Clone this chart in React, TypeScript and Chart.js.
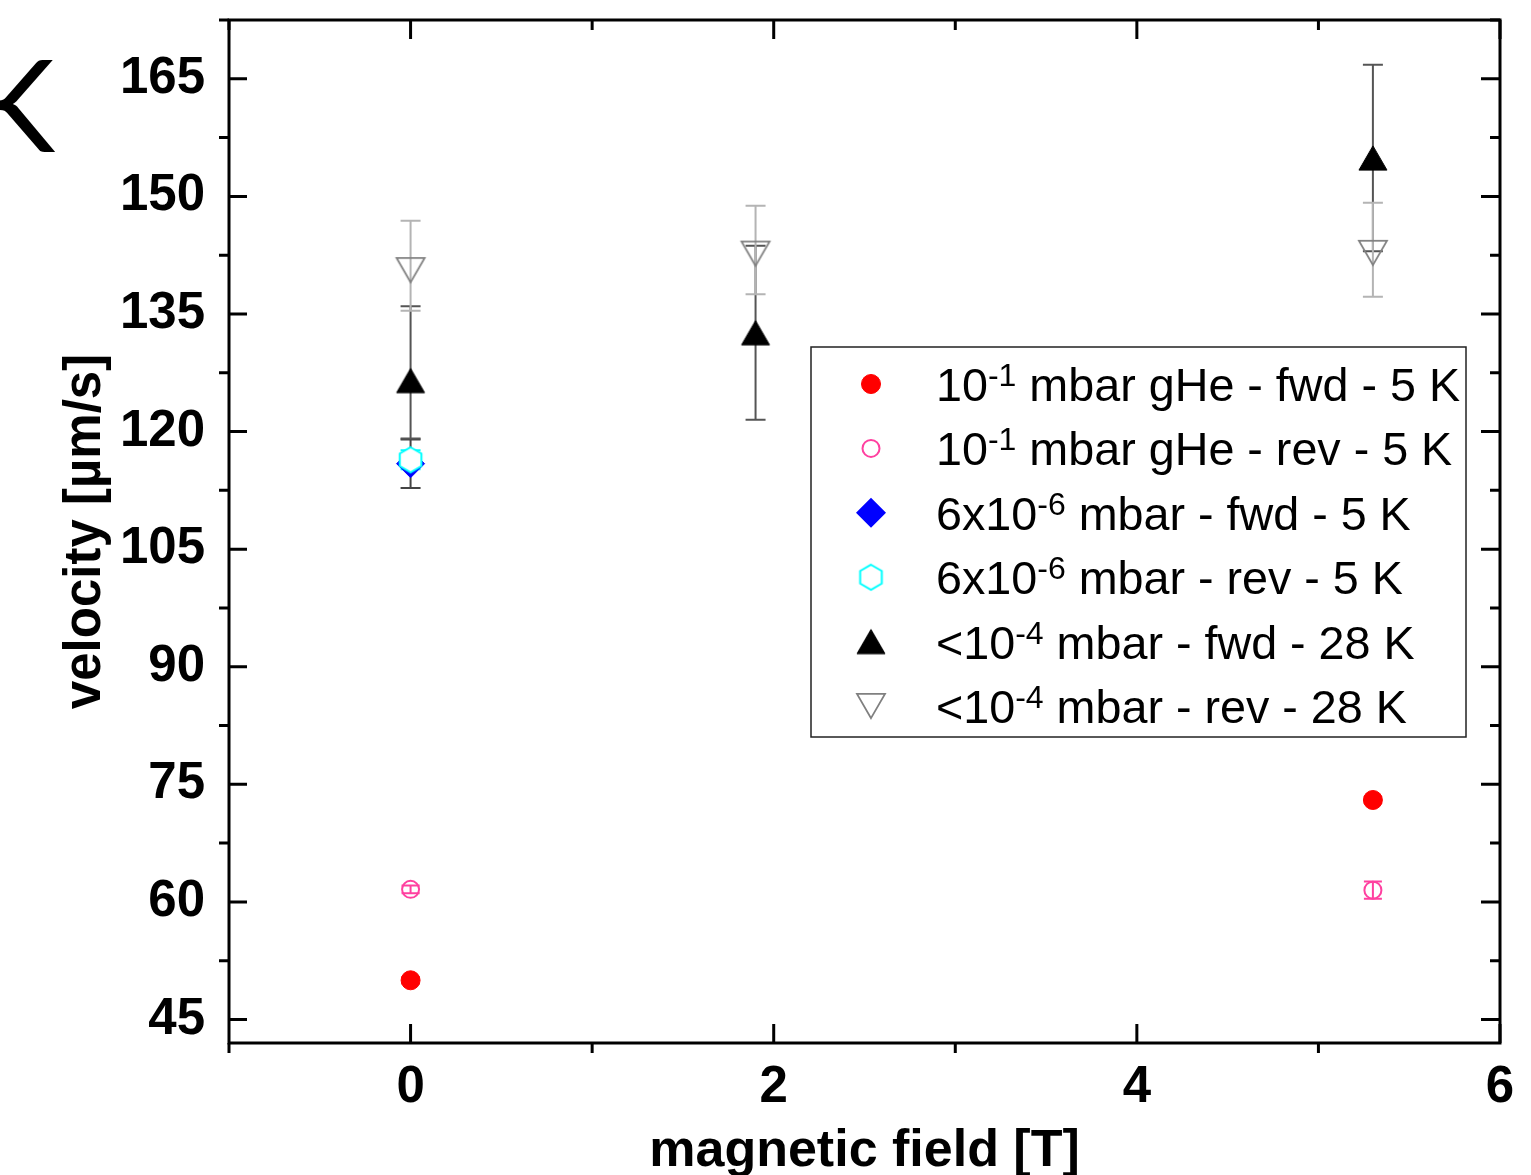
import React, { useEffect, useRef } from 'react';
import { Chart, registerables } from 'chart.js';

Chart.register(...registerables);

const W = 1531;
const H = 1175;
const FONT = '"Liberation Sans", Arial, sans-serif';

// ---- axes ----
const xMin = -1;
const xMax = 6;
const yMin = 42;
const yMax = 172.5;
const xTickValues = [0, 2, 4, 6];
const xMinorValues = [-1, 1, 3, 5];
const yTickValues = [45, 60, 75, 90, 105, 120, 135, 150, 165];
const yMinorValues = [52.5, 67.5, 82.5, 97.5, 112.5, 127.5, 142.5, 157.5, 172.5];
const xTitle = 'magnetic field [T]';
const yTitle = 'velocity [µm/s]';

// ---- series: 10^-1 mbar gHe fwd 5 K ----
const gheFwdX = [0, 5.3];
const gheFwdY = [50.0, 73.0];
const gheFwdErrLo = [0.4, 0.4];
const gheFwdErrHi = [0.4, 0.4];

// ---- series: 10^-1 mbar gHe rev 5 K ----
const gheRevX = [0, 5.3];
const gheRevY = [61.6, 61.5];
const gheRevErrLo = [0.5, 1.1];
const gheRevErrHi = [0.5, 1.1];

// ---- series: 6x10^-6 mbar fwd 5 K ----
const vacFwdX = [0];
const vacFwdY = [115.9];
const vacFwdErrLo = [3.1];
const vacFwdErrHi = [3.1];

// ---- series: 6x10^-6 mbar rev 5 K ----
const vacRevX = [0];
const vacRevY = [116.4];
const vacRevErrLo = [1.2];
const vacRevErrHi = [1.2];

// ---- series: <10^-4 mbar fwd 28 K ----
const k28FwdX = [0, 1.9, 5.3];
const k28FwdY = [126.5, 132.6, 154.9];
const k28FwdErrLo = [7.4, 11.1, 11.9];
const k28FwdErrHi = [9.5, 11.1, 11.9];

// ---- series: <10^-4 mbar rev 28 K ----
const k28RevX = [0, 1.9, 5.3];
const k28RevY = [140.6, 142.7, 142.8];
const k28RevErrLo = [5.2, 5.2, 5.6];
const k28RevErrHi = [6.3, 6.1, 6.4];

// ---- legend text ----
const legendBase = ['10', '10', '6x10', '6x10', '<10', '<10'];
const legendExp = ['-1', '-1', '-6', '-6', '-4', '-4'];
const legendRest = [
  ' mbar gHe - fwd - 5 K',
  ' mbar gHe - rev - 5 K',
  ' mbar - fwd - 5 K',
  ' mbar - rev - 5 K',
  ' mbar - fwd - 28 K',
  ' mbar - rev - 28 K',
];
const supMap: Record<string, string> = { '-': '⁻', '1': '¹', '4': '⁴', '6': '⁶' };
const toSup = (s: string) => s.split('').map((c) => supMap[c] || c).join('');

function makeTriangle(up: boolean, fill: string | null, stroke: string, lw: number, w: number) {
  const h = (w * Math.sqrt(3)) / 2;
  const size = Math.ceil(Math.max(w, h) + lw * 2 + 4);
  const c = document.createElement('canvas');
  c.width = size;
  c.height = size;
  const g = c.getContext('2d')!;
  const cx = size / 2;
  const cy = size / 2;
  g.beginPath();
  if (up) {
    g.moveTo(cx, cy - h / 2);
    g.lineTo(cx + w / 2, cy + h / 2);
    g.lineTo(cx - w / 2, cy + h / 2);
  } else {
    g.moveTo(cx, cy + h / 2);
    g.lineTo(cx + w / 2, cy - h / 2);
    g.lineTo(cx - w / 2, cy - h / 2);
  }
  g.closePath();
  if (fill) {
    g.fillStyle = fill;
    g.fill();
  }
  g.lineWidth = lw;
  g.strokeStyle = stroke;
  g.stroke();
  return c;
}

function makeHexagon(r: number, stroke: string, lw: number) {
  const size = Math.ceil(2 * r + lw * 2 + 4);
  const c = document.createElement('canvas');
  c.width = size;
  c.height = size;
  const g = c.getContext('2d')!;
  const cx = size / 2;
  const cy = size / 2;
  g.beginPath();
  for (let i = 0; i < 6; i++) {
    const a = -Math.PI / 2 + (i * Math.PI) / 3;
    const px = cx + r * Math.cos(a);
    const py = cy + r * Math.sin(a);
    if (i === 0) g.moveTo(px, py);
    else g.lineTo(px, py);
  }
  g.closePath();
  g.fillStyle = '#ffffff';
  g.fill();
  g.lineWidth = lw;
  g.strokeStyle = stroke;
  g.stroke();
  return c;
}

export default function App() {
  const ref = useRef<HTMLCanvasElement>(null);

  useEffect(() => {
    document.body.style.margin = '0';
    const canvas = ref.current!;
    const upTri = makeTriangle(true, '#000000', '#000000', 1, 28);
    const downTri = makeTriangle(false, null, '#808080', 1.8, 28);
    const hex = makeHexagon(12.5, '#00ffff', 2);

    const series = [
      { x: gheFwdX, y: gheFwdY, lo: gheFwdErrLo, hi: gheFwdErrHi, errColor: '#ff0000', cap: 9, style: 'circle', radius: 9.5, bg: '#ff0000', border: '#ff0000', bw: 1, order: 6 },
      { x: gheRevX, y: gheRevY, lo: gheRevErrLo, hi: gheRevErrHi, errColor: '#ff40a0', cap: 9, style: 'circle', radius: 8.5, bg: 'rgba(0,0,0,0)', border: '#ff40a0', bw: 2, order: 5 },
      { x: vacFwdX, y: vacFwdY, lo: vacFwdErrLo, hi: vacFwdErrHi, errColor: '#444444', cap: 10, style: 'rectRot', radius: 14, bg: '#0000ff', border: '#0000ff', bw: 1, order: 4 },
      { x: vacRevX, y: vacRevY, lo: vacRevErrLo, hi: vacRevErrHi, errColor: '#00ffff', cap: 10, style: hex, radius: 12, bg: '#ffffff', border: '#00ffff', bw: 2, order: 3 },
      { x: k28FwdX, y: k28FwdY, lo: k28FwdErrLo, hi: k28FwdErrHi, errColor: '#555555', cap: 10, style: upTri, radius: 14, bg: '#000000', border: '#000000', bw: 1, order: 2 },
      { x: k28RevX, y: k28RevY, lo: k28RevErrLo, hi: k28RevErrHi, errColor: '#b4b4b4', cap: 10, style: downTri, radius: 14, bg: 'rgba(0,0,0,0)', border: '#808080', bw: 2, order: 1 },
    ];

    const errorBars = {
      id: 'errorBars',
      beforeDatasetsDraw(chart: any) {
        const ctx = chart.ctx;
        const xs = chart.scales.x;
        const ys = chart.scales.y;
        ctx.save();
        series.forEach((s) => {
          ctx.strokeStyle = s.errColor;
          ctx.lineWidth = 2;
          s.x.forEach((xv, i) => {
            const px = xs.getPixelForValue(xv);
            const top = ys.getPixelForValue(s.y[i] + s.hi[i]);
            const bot = ys.getPixelForValue(s.y[i] - s.lo[i]);
            ctx.beginPath();
            ctx.moveTo(px, top);
            ctx.lineTo(px, bot);
            ctx.moveTo(px - s.cap, top);
            ctx.lineTo(px + s.cap, top);
            ctx.moveTo(px - s.cap, bot);
            ctx.lineTo(px + s.cap, bot);
            ctx.stroke();
          });
        });
        ctx.restore();
      },
    };

    const frame = {
      id: 'frame',
      afterDraw(chart: any) {
        const ctx = chart.ctx;
        const { left, right, top, bottom } = chart.chartArea;
        const xs = chart.scales.x;
        const ys = chart.scales.y;
        ctx.save();
        ctx.strokeStyle = '#000000';
        ctx.lineWidth = 3;
        ctx.lineCap = 'butt';
        ctx.strokeRect(left, top, right - left, bottom - top);
        ctx.beginPath();
        yTickValues.forEach((v) => {
          const p = ys.getPixelForValue(v);
          ctx.moveTo(left, p);
          ctx.lineTo(left + 18, p);
          ctx.moveTo(right, p);
          ctx.lineTo(right - 19, p);
        });
        yMinorValues.forEach((v) => {
          const p = ys.getPixelForValue(v);
          ctx.moveTo(left, p);
          ctx.lineTo(left - 10, p);
          ctx.moveTo(right, p);
          ctx.lineTo(right - 10, p);
        });
        xTickValues.forEach((v) => {
          const p = xs.getPixelForValue(v);
          ctx.moveTo(p, bottom);
          ctx.lineTo(p, bottom - 19);
          ctx.moveTo(p, top);
          ctx.lineTo(p, top + 19);
        });
        xMinorValues.forEach((v) => {
          const p = xs.getPixelForValue(v);
          ctx.moveTo(p, bottom);
          ctx.lineTo(p, bottom + 10);
          ctx.moveTo(p, top);
          ctx.lineTo(p, top + 10);
        });
        ctx.stroke();
        ctx.restore();
      },
    };

    const legendBox = {
      id: 'legendBox',
      afterDraw(chart: any) {
        const ctx = chart.ctx;
        const { left, top } = chart.chartArea;
        const bx = left + 582;
        const by = top + 327;
        const bw = 655;
        const bh = 390;
        ctx.save();
        ctx.fillStyle = '#ffffff';
        ctx.fillRect(bx, by, bw, bh);
        ctx.strokeStyle = '#222222';
        ctx.lineWidth = 1.5;
        ctx.strokeRect(bx, by, bw, bh);
        const mx = bx + 60;
        const tx = bx + 125;
        legendBase.forEach((base, i) => {
          const ry = by + 37 + i * 64.4;
          const s = series[i];
          // marker
          if (s.style === 'circle') {
            ctx.beginPath();
            ctx.arc(mx, ry, s.radius, 0, Math.PI * 2);
            if (s.bg !== 'rgba(0,0,0,0)') {
              ctx.fillStyle = s.bg;
              ctx.fill();
            }
            ctx.lineWidth = s.bw;
            ctx.strokeStyle = s.border;
            ctx.stroke();
          } else if (s.style === 'rectRot') {
            ctx.beginPath();
            ctx.moveTo(mx - 15, ry);
            ctx.lineTo(mx, ry - 15);
            ctx.lineTo(mx + 15, ry);
            ctx.lineTo(mx, ry + 15);
            ctx.closePath();
            ctx.fillStyle = s.bg;
            ctx.fill();
          } else {
            const img = s.style as HTMLCanvasElement;
            ctx.drawImage(img, mx - img.width / 2, ry - img.height / 2);
          }
          // text
          ctx.fillStyle = '#000000';
          ctx.textBaseline = 'alphabetic';
          ctx.textAlign = 'left';
          const baseY = ry + 17;
          ctx.font = `46.7px ${FONT}`;
          ctx.fillText(base, tx, baseY);
          let x = tx + ctx.measureText(base).width;
          ctx.font = `32px ${FONT}`;
          ctx.fillText(legendExp[i], x, baseY - 15);
          x += ctx.measureText(legendExp[i]).width;
          ctx.font = `46.7px ${FONT}`;
          ctx.fillText(legendRest[i], x, baseY);
        });
        // partial panel letter at top-left
        ctx.font = `400 128px Lato, ${FONT}`;
        ctx.textAlign = 'right';
        ctx.fillText('K', 55, 152);
        ctx.restore();
      },
    };

    const chart = new Chart(canvas, {
      type: 'scatter',
      data: {
        datasets: series.map((s, i) => ({
          label: legendBase[i] + toSup(legendExp[i]) + legendRest[i],
          data: s.x.map((xv, j) => ({ x: xv, y: s.y[j] })),
          pointStyle: s.style as any,
          pointRadius: s.radius,
          backgroundColor: s.bg,
          borderColor: s.border,
          borderWidth: s.bw,
          order: s.order,
        })),
      },
      options: {
        responsive: false,
        animation: false,
        devicePixelRatio: 1,
        layout: { padding: { left: 0, right: 31, top: 20, bottom: 0 } },
        plugins: { legend: { display: false }, tooltip: { enabled: false } },
        scales: {
          x: {
            type: 'linear',
            position: 'bottom',
            min: xMin,
            max: xMax,
            afterBuildTicks: (s: any) => {
              s.ticks = xTickValues.map((v) => ({ value: v }));
            },
            afterFit: (s: any) => {
              s.height = 132;
              s.paddingLeft = 0;
              s.paddingRight = 0;
            },
            grid: { display: false, drawTicks: false },
            border: { display: false },
            ticks: {
              font: { family: FONT, size: 51, weight: 'bold' },
              color: '#000000',
              padding: 14,
              maxRotation: 0,
              autoSkip: false,
              callback: (v: any) => String(v),
            },
            title: {
              display: true,
              text: xTitle,
              color: '#000000',
              font: { family: FONT, size: 52, weight: 'bold', lineHeight: 1 },
              padding: { top: 0, bottom: -3 },
            },
          },
          y: {
            type: 'linear',
            position: 'left',
            min: yMin,
            max: yMax,
            afterBuildTicks: (s: any) => {
              s.ticks = yTickValues.map((v) => ({ value: v }));
            },
            afterFit: (s: any) => {
              s.width = 229;
              s.paddingTop = 0;
              s.paddingBottom = 0;
            },
            grid: { display: false, drawTicks: false },
            border: { display: false },
            ticks: {
              font: { family: FONT, size: 51, weight: 'bold' },
              color: '#000000',
              padding: 24,
              autoSkip: false,
              callback: (v: any) => String(v),
            },
            title: {
              display: true,
              text: yTitle,
              color: '#000000',
              font: { family: FONT, size: 51, weight: 'bold', lineHeight: 1 },
              padding: { top: 60, bottom: 0 },
            },
          },
        },
      },
      plugins: [errorBars, frame, legendBox],
    } as any);

    return () => chart.destroy();
  }, []);

  return (
    <div style={{ position: 'absolute', left: 0, top: 0, width: W, height: H, background: '#ffffff' }}>
      <canvas ref={ref} width={W} height={H} style={{ width: W, height: H, display: 'block' }} />
    </div>
  );
}
